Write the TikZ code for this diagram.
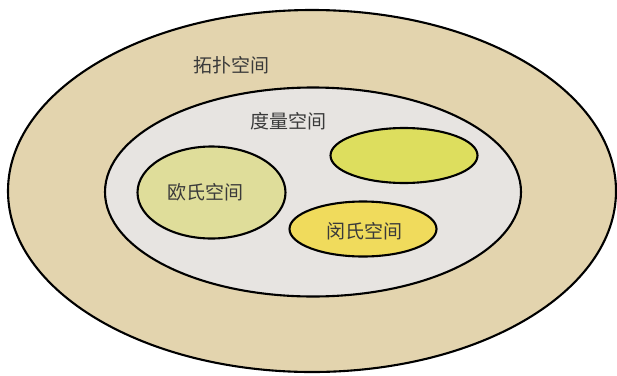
\documentclass[tikz,border=0pt]{standalone}
\usepackage{fontspec}
\newfontfamily\cjk{Noto Sans CJK SC}
\usetikzlibrary{shapes.geometric}
\definecolor{topo}{HTML}{E3D4AE}
\definecolor{metric}{HTML}{E7E4E1}
\definecolor{eucl}{HTML}{DFDD9A}
\definecolor{blank}{HTML}{DDDE5E}
\definecolor{mink}{HTML}{F0DB5C}
\definecolor{txt}{HTML}{3A3A3A}
\begin{document}
\begin{tikzpicture}[x=1pt,y=-1pt,
  region/.style={ellipse,draw=black,line width=2.1pt,inner sep=0pt,outer sep=0pt},
  lbl/.style={font=\cjk\fontsize{19}{20}\selectfont,text=txt,inner sep=0pt}]
\useasboundingbox (0,0) rectangle (617,375);
\node[region,fill=topo,minimum width=608pt,minimum height=362pt] (topo) at (312,191) {};
\node[region,fill=metric,minimum width=416pt,minimum height=209pt] (metric) at (313,192) {};
\node[region,fill=eucl,minimum width=148pt,minimum height=92pt] (eucl) at (211.5,192.5) {};
\node[region,fill=blank,minimum width=147pt,minimum height=55pt] (blank) at (404,155.5) {};
\node[region,fill=mink,minimum width=147pt,minimum height=55pt] (mink) at (363,229) {};
\node[lbl] (tl) at (231,65) {拓扑空间};
\node[lbl] (ml) at (288,121) {度量空间};
\node[lbl] (el) at (205.5,192) {欧氏空间};
\node[lbl] (kl) at (364,231) {闵氏空间};
\end{tikzpicture}
\end{document}
